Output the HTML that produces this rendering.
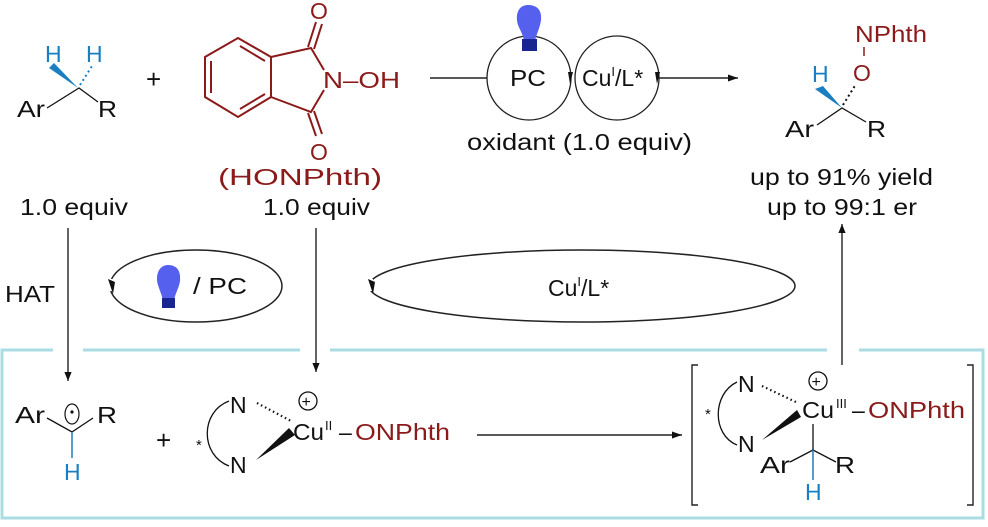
<!DOCTYPE html>
<html><head><meta charset="utf-8"><style>
html,body{margin:0;padding:0;background:#fff}
svg{display:block;font-family:"Liberation Sans",sans-serif}
</style></head><body>
<svg width="988" height="527" viewBox="0 0 988 527" xmlns="http://www.w3.org/2000/svg">
<defs>
<marker id="ah" viewBox="0 0 10 10" refX="10" refY="5" markerWidth="9" markerHeight="11" markerUnits="userSpaceOnUse" orient="auto"><path d="M0,1 L10,5 L0,9 Z" fill="#111"/></marker>
<marker id="ahl" viewBox="0 0 10 10" refX="10" refY="5" markerWidth="16" markerHeight="10" markerUnits="userSpaceOnUse" orient="auto"><path d="M0,1.5 L10,5 L0,8.5 Z" fill="#111"/></marker>
</defs>
<rect x="2" y="350" width="981" height="168" fill="none" stroke="#a9dde3" stroke-width="3"/>
<rect x="53" y="345" width="30" height="9" fill="#fff"/>
<rect x="300" y="345" width="30" height="9" fill="#fff"/>
<rect x="827" y="345" width="32" height="9" fill="#fff"/>

<g font-size="23" fill="#111">
<text x="45" y="62" fill="#1a7fc1">H</text>
<text x="86" y="62" fill="#1a7fc1">H</text>
<path d="M78,88 L49,68 L54,63 Z" fill="#1a7fc1"/>
<path d="M80,85 L92,66" stroke="#1a7fc1" stroke-width="2" stroke-dasharray="2,3"/>
<path d="M47,108 L79,88 L98,102" stroke="#111" stroke-width="1.3" fill="none"/>
<text x="17" y="117" textLength="28" lengthAdjust="spacingAndGlyphs">Ar</text>
<text x="98" y="117" textLength="19" lengthAdjust="spacingAndGlyphs">R</text>
<text x="146" y="88" font-size="26">+</text>

<g stroke="#8b1a1a" stroke-width="2" fill="none">
<path d="M238,38 L271,57 L271,97 L238,117 L205,97 L205,57 Z"/>
<path d="M211,61 L211,93 M240,46 L265,61 M240,109 L265,94"/>
<path d="M271,57 L311,48 L324,70 M324,90 L311,112 L271,97"/>
<path d="M308,47 L316,22 M314,49 L322,24"/>
<path d="M308,113 L316,136 M314,111 L322,134"/>
</g>
<g fill="#8b1a1a">
<text x="310" y="19">O</text>
<text x="323" y="88" textLength="77" lengthAdjust="spacingAndGlyphs">N–OH</text>
<text x="310" y="160">O</text>
<text x="218" y="185" textLength="164" lengthAdjust="spacingAndGlyphs">(HONPhth)</text>
</g>
<text x="20" y="215" textLength="108" lengthAdjust="spacingAndGlyphs">1.0 equiv</text>
<text x="263" y="215" textLength="107" lengthAdjust="spacingAndGlyphs">1.0 equiv</text>

<line x1="430" y1="78" x2="487" y2="78" stroke="#222" stroke-width="1.4"/>
<line x1="659" y1="78" x2="738" y2="78" stroke="#222" stroke-width="1.4" marker-end="url(#ahl)"/>
<circle cx="529" cy="78" r="42" fill="none" stroke="#222" stroke-width="1.3"/>
<circle cx="617" cy="78" r="42" fill="none" stroke="#222" stroke-width="1.3"/>
<path d="M568,72 L570,84 L573,72 Z" fill="#111"/>
<path d="M655,72 L657,84 L660,72 Z" fill="#111"/>
<text x="510" y="86" textLength="36" lengthAdjust="spacingAndGlyphs">PC</text>
<text x="582" y="86">Cu<tspan font-size="13" dy="-10">I</tspan><tspan dy="10">/L*</tspan></text>
<path d="M528,5 C518,5 515,15 518,25 C521,32 523,35 524,41 L535,41 C536,35 540,28 541,20 C542,10 537,5 528,5 Z" fill="#5560ee"/>
<rect x="522" y="39" width="15" height="12" fill="#1a2690"/>
<text x="467" y="150" textLength="225" lengthAdjust="spacingAndGlyphs">oxidant (1.0 equiv)</text>

<text x="855" y="42" fill="#8b1a1a" textLength="72" lengthAdjust="spacingAndGlyphs">NPhth</text>
<line x1="864" y1="47" x2="864" y2="56" stroke="#8b1a1a" stroke-width="1.5"/>
<text x="853" y="81" fill="#8b1a1a">O</text>
<text x="812" y="82" fill="#1a7fc1">H</text>
<path d="M815,89 L823,86 L842,108 Z" fill="#1a7fc1"/>
<path d="M843,105 L856,84" stroke="#111" stroke-width="2" stroke-dasharray="2,3"/>
<path d="M817,125 L842,108 L866,122" stroke="#111" stroke-width="1.3" fill="none"/>
<text x="785" y="137" textLength="29" lengthAdjust="spacingAndGlyphs">Ar</text>
<text x="867" y="137" textLength="19" lengthAdjust="spacingAndGlyphs">R</text>
<text x="750" y="185" textLength="183" lengthAdjust="spacingAndGlyphs">up to 91% yield</text>
<text x="767" y="215" textLength="150" lengthAdjust="spacingAndGlyphs">up to 99:1 er</text>

<line x1="68" y1="228" x2="68" y2="381" stroke="#111" stroke-width="1.3" marker-end="url(#ah)"/>
<line x1="316" y1="228" x2="316" y2="372" stroke="#111" stroke-width="1.3" marker-end="url(#ah)"/>
<line x1="842" y1="365" x2="842" y2="224" stroke="#111" stroke-width="1.3" marker-end="url(#ah)"/>
<text x="5" y="302" textLength="50" lengthAdjust="spacingAndGlyphs">HAT</text>

<ellipse cx="196" cy="286" rx="86" ry="36" fill="none" stroke="#222" stroke-width="1.5"/>
<rect x="106" y="279" width="8" height="12" fill="#fff"/>
<path d="M108,279 L113,294 L115,282 Z" fill="#111"/>
<path d="M168,265 C159,265 155,275 158,285 C160,291 162,296 163,300 L174,300 C175,294 179,288 180,281 C181,271 177,265 168,265 Z" fill="#5560ee"/>
<rect x="162" y="298" width="13" height="10" fill="#1a2690"/>
<text x="193" y="294" textLength="54" lengthAdjust="spacingAndGlyphs">/ PC</text>
<ellipse cx="582" cy="286" rx="213" ry="36" fill="none" stroke="#222" stroke-width="1.5"/>
<rect x="365" y="279" width="8" height="12" fill="#fff"/>
<path d="M368,279 L373,294 L375,282 Z" fill="#111"/>
<text x="548" y="296">Cu<tspan font-size="13" dy="-10">I</tspan><tspan dy="10">/L*</tspan></text>

<text x="15" y="423" textLength="30" lengthAdjust="spacingAndGlyphs">Ar</text>
<text x="97" y="423" textLength="20" lengthAdjust="spacingAndGlyphs">R</text>
<path d="M47,418 L72,432 L93,418" stroke="#111" stroke-width="1.3" fill="none"/>
<ellipse cx="72" cy="414" rx="7" ry="10" fill="none" stroke="#111" stroke-width="1.2"/>
<circle cx="72" cy="412" r="1.6" fill="#111"/>
<line x1="72" y1="432" x2="72" y2="458" stroke="#1a7fc1" stroke-width="1.5"/>
<text x="64" y="480" fill="#1a7fc1">H</text>
<text x="156" y="449" font-size="26">+</text>

<text x="196" y="450" font-size="15">*</text>
<path d="M229,401 C200,412 200,455 229,466" stroke="#111" stroke-width="1.3" fill="none"/>
<text x="230" y="413">N</text>
<text x="230" y="473">N</text>
<path d="M257,403 L291,421" stroke="#111" stroke-width="2.2" stroke-dasharray="1.5,3"/>
<path d="M256,460 L289,428 L295,435 Z" fill="#111"/>
<circle cx="308" cy="401" r="9" fill="none" stroke="#111" stroke-width="1.3"/>
<text x="301.5" y="407" font-size="16">+</text>
<text x="293" y="440" textLength="31" lengthAdjust="spacingAndGlyphs">Cu</text>
<text x="325" y="430" font-size="13">II</text>
<text x="339" y="440">–</text>
<text x="355" y="440" fill="#8b1a1a" textLength="95" lengthAdjust="spacingAndGlyphs">ONPhth</text>
<line x1="477" y1="435" x2="682" y2="435" stroke="#222" stroke-width="1.4" marker-end="url(#ahl)"/>

<path d="M698,365 L692,365 L692,505 L698,505 M967,365 L973,365 L973,505 L967,505" stroke="#222" stroke-width="1.4" fill="none"/>
<text x="705" y="419" font-size="15">*</text>
<path d="M737,382 C712,394 712,435 737,445" stroke="#111" stroke-width="1.3" fill="none"/>
<text x="738" y="392">N</text>
<text x="738" y="452">N</text>
<path d="M762,386 L798,403" stroke="#111" stroke-width="2.2" stroke-dasharray="1.5,3"/>
<path d="M762,440 L797,410 L801,417 Z" fill="#111"/>
<circle cx="818" cy="381" r="9" fill="none" stroke="#111" stroke-width="1.3"/>
<text x="811.5" y="387" font-size="16">+</text>
<text x="802" y="418" textLength="32" lengthAdjust="spacingAndGlyphs">Cu</text>
<text x="836" y="408" font-size="13">III</text>
<text x="852" y="418">–</text>
<text x="868" y="418" fill="#8b1a1a" textLength="97" lengthAdjust="spacingAndGlyphs">ONPhth</text>
<line x1="813" y1="424" x2="813" y2="450" stroke="#111" stroke-width="1.3"/>
<path d="M790,462 L813,450 L836,462" stroke="#111" stroke-width="1.3" fill="none"/>
<line x1="813" y1="450" x2="813" y2="480" stroke="#1a7fc1" stroke-width="1.5"/>
<text x="760" y="473" textLength="30" lengthAdjust="spacingAndGlyphs">Ar</text>
<text x="835" y="473" textLength="20" lengthAdjust="spacingAndGlyphs">R</text>
<text x="805" y="500" fill="#1a7fc1">H</text>
</g>
</svg>
</body></html>
